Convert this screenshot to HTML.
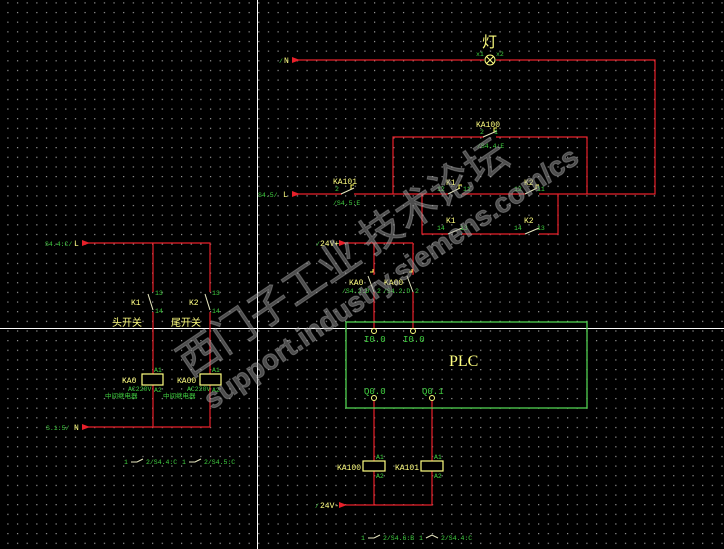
<!DOCTYPE html>
<html><head><meta charset="utf-8"><style>
html,body{margin:0;padding:0;background:#000;}
svg{display:block;}
.m{font-family:"Liberation Mono","Noto Sans CJK SC",monospace;}
</style></head><body>
<svg width="724" height="549" viewBox="0 0 724 549" xmlns="http://www.w3.org/2000/svg">
<defs>
<pattern id="g" x="7.3" y="2.3" width="9.65" height="9.65" patternUnits="userSpaceOnUse">
<rect x="0" y="0" width="1.2" height="1.2" fill="#9a9a9a"/>
</pattern>
</defs>
<rect width="724" height="549" fill="#000"/>
<rect width="724" height="549" fill="url(#g)"/>

<line x1="257.5" y1="0" x2="257.5" y2="549" stroke="#fff" stroke-width="1"/>
<line x1="0" y1="328.5" x2="724" y2="328.5" stroke="#fff" stroke-width="1"/>

<g stroke="#e8202a" stroke-width="1.2" fill="none">
<polyline points="298,60 484,60"/>
<polyline points="496,60 655,60 655,194 580,194"/>
<polyline points="298,194 342,194"/>
<polyline points="354,194 448,194"/>
<polyline points="462,194 525,194"/>
<polyline points="539,194 580,194"/>
<polyline points="393,194 393,137 484,137"/>
<polyline points="496,137 587,137 587,194"/>
<polyline points="422,194 422,234 448,234"/>
<polyline points="462,234 525,234"/>
<polyline points="539,234 558,234 558,194"/>
<polyline points="346,243 413,243"/>
<polyline points="374,243 374,275"/>
<polyline points="374,292 374,328"/>
<polyline points="413,243 413,275"/>
<polyline points="413,292 413,328"/>
<polyline points="374,401 374,461"/>
<polyline points="374,471 374,505"/>
<polyline points="432,401 432,461"/>
<polyline points="432,471 432,505 346,505"/>
<polyline points="88,243 210,243 210,292"/>
<polyline points="153,243 153,292"/>
<polyline points="153,312 153,374"/>
<polyline points="210,312 210,374"/>
<polyline points="153,385 153,427"/>
<polyline points="210,385 210,427 88,427"/>
</g>
<g fill="#e8202a">
<polygon points="292,57 300,60 292,63"/>
<polygon points="292,191 300,194 292,197"/>
<polygon points="339,240 347,243 339,246"/>
<polygon points="339,502 347,505 339,508"/>
<polygon points="82,240 90,243 82,246"/>
<polygon points="82,424 90,427 82,430"/>
</g>

<g stroke="#e8e8c0" stroke-width="1" fill="none">
<circle cx="490" cy="60" r="5" stroke="#ffff80"/>
<line x1="486.5" y1="56.5" x2="493.5" y2="63.5" stroke="#ffff80"/>
<line x1="493.5" y1="56.5" x2="486.5" y2="63.5" stroke="#ffff80"/>
<line x1="483" y1="137" x2="497" y2="131"/>
<line x1="341" y1="194" x2="354" y2="188"/>
<line x1="448" y1="194" x2="460" y2="188"/>
<line x1="525" y1="194" x2="537" y2="188"/>
<line x1="448" y1="234" x2="462" y2="228"/>
<line x1="525" y1="234" x2="539" y2="228"/>
<line x1="368" y1="276" x2="374" y2="292"/>
<line x1="407" y1="276" x2="413" y2="292"/>
<line x1="148" y1="294" x2="153" y2="310"/>
<line x1="205" y1="294" x2="210" y2="310"/>
</g>
<g fill="none" stroke="#ffff60" stroke-width="1">
<path d="M494,132 v-4 h3"/><path d="M351,189 v-4 h3"/><path d="M459,189 v-4 h3"/><path d="M536,189 v-4 h3"/>
<path d="M370,272 h3 v-3"/><path d="M409,272 h3 v-3"/>
</g>

<g stroke="#ffff80" stroke-width="1.2" fill="#000">
<rect x="142" y="374" width="21" height="11"/>
<rect x="200" y="374" width="21" height="11"/>
<rect x="363" y="461" width="22" height="10"/>
<rect x="421" y="461" width="22" height="10"/>
</g>

<rect x="346" y="322" width="241" height="86" fill="none" stroke="#50d050" stroke-width="1.3"/>
<g fill="#000" stroke="#ffff80" stroke-width="1">
<circle cx="374" cy="331" r="2.5"/><circle cx="413" cy="331" r="2.5"/>
<circle cx="374" cy="398" r="2.5"/><circle cx="432" cy="398" r="2.5"/>
</g>
<text x="449" y="366" style="font-family:'Liberation Serif',serif;font-size:16px" fill="#ffff80">PLC</text>

<g class="m">
<g font-size="9" fill="#40d040">
<text x="364" y="342">I0.0</text><text x="403" y="342">I0.0</text>
<text x="364" y="394">Q0.0</text><text x="422" y="394">Q0.1</text>
</g>
<g font-size="8" fill="#ffff80">
<text x="476" y="127">KA100</text>
<text x="333" y="184">KA101</text>
<text x="446" y="185">K1</text><text x="524" y="185">K2</text>
<text x="446" y="223">K1</text><text x="524" y="223">K2</text>
<text x="349" y="285">KA0</text><text x="384" y="285">KA00</text>
<text x="131" y="305">K1</text><text x="189" y="305">K2</text>
<text x="122" y="383">KA0</text><text x="177" y="383">KA00</text>
<text x="337" y="470">KA100</text><text x="395" y="470">KA101</text>
<text x="284" y="63">N</text><text x="283" y="197">L</text>
<text x="74" y="246">L</text><text x="74" y="430">N</text>
<text x="320" y="246">24V+</text><text x="320" y="508">24V-</text>
</g>
<g font-size="6.5" fill="#40d040">
<text x="476" y="56">x1</text><text x="496" y="56">x2</text>
<text x="480" y="134">2</text><text x="494" y="134">1</text>
<text x="477" y="148">/S4.4:E</text>
<text x="335" y="191">2</text>
<text x="333" y="205">/S4.5:E</text>
<text x="258" y="197">S4.5/</text><text x="279" y="63">/</text>
<text x="437" y="191">12</text><text x="463" y="191">11</text>
<text x="514" y="191">12</text><text x="537" y="191">11</text>
<text x="437" y="230">14</text><text x="460" y="230">13</text>
<text x="514" y="230">14</text><text x="537" y="230">13</text>
<text x="316" y="246">/</text><text x="315" y="508">/</text>
<text x="342" y="293">/S4.2:D</text><text x="377" y="293">2</text><text x="383" y="293">/S4.2:D</text><text x="415" y="293">2</text>
<text x="155" y="295">13</text><text x="155" y="313">14</text>
<text x="212" y="295">13</text><text x="212" y="313">14</text>
<text x="154" y="372">A1</text><text x="154" y="392">A2</text>
<text x="212" y="372">A1</text><text x="212" y="392">A2</text>
<text x="128" y="391">AC220V</text><text x="105" y="398">中间继电器</text>
<text x="187" y="391">AC220V</text><text x="163" y="398">中间继电器</text>
<text x="45" y="246">S4.4:C/</text><text x="46" y="430">S.1:5/</text>
<text x="376" y="459">A1</text><text x="376" y="478">A2</text>
<text x="434" y="459">A1</text><text x="434" y="478">A2</text>
<text x="124" y="464">1</text><text x="146" y="464">2/S4.4:C</text>
<text x="182" y="464">1</text><text x="204" y="464">2/S4.5:C</text>
<text x="361" y="540">1</text><text x="383" y="540">2/S4.6:B</text>
<text x="419" y="540">1</text><text x="441" y="540">2/S4.4:C</text>
</g>
</g>
<text x="482" y="47" style="font-family:'Noto Sans CJK SC',sans-serif;font-size:15px" fill="#ffff80">灯</text>
<g fill="#ffff80" style="font-family:'Noto Sans CJK SC',sans-serif;font-size:10px">
<text x="112" y="326">头开关</text><text x="171" y="326">尾开关</text>
</g>
<g stroke="#e8e8c0" stroke-width="1" fill="none">
<polyline points="131,462 137,462 143,459"/><polyline points="189,462 195,462 201,459"/>
<polyline points="368,538 374,538 380,535"/><polyline points="426,538 432,535 438,538"/>
</g>

<g fill="#9a9a9a" fill-opacity="0.5" stroke="#c0c0c0" stroke-opacity="0.35" stroke-width="1">
<text x="190" y="378" style="font-family:'Noto Sans CJK SC',sans-serif;font-size:42px" transform="rotate(-34 190 378)">西门子工业 技术论坛</text>
<text x="212" y="410" style="font-family:'Liberation Sans',sans-serif;font-size:28px;font-weight:bold" transform="rotate(-34 212 410)">support.industry.siemens.com/cs</text>
</g>
</svg>
</body></html>
